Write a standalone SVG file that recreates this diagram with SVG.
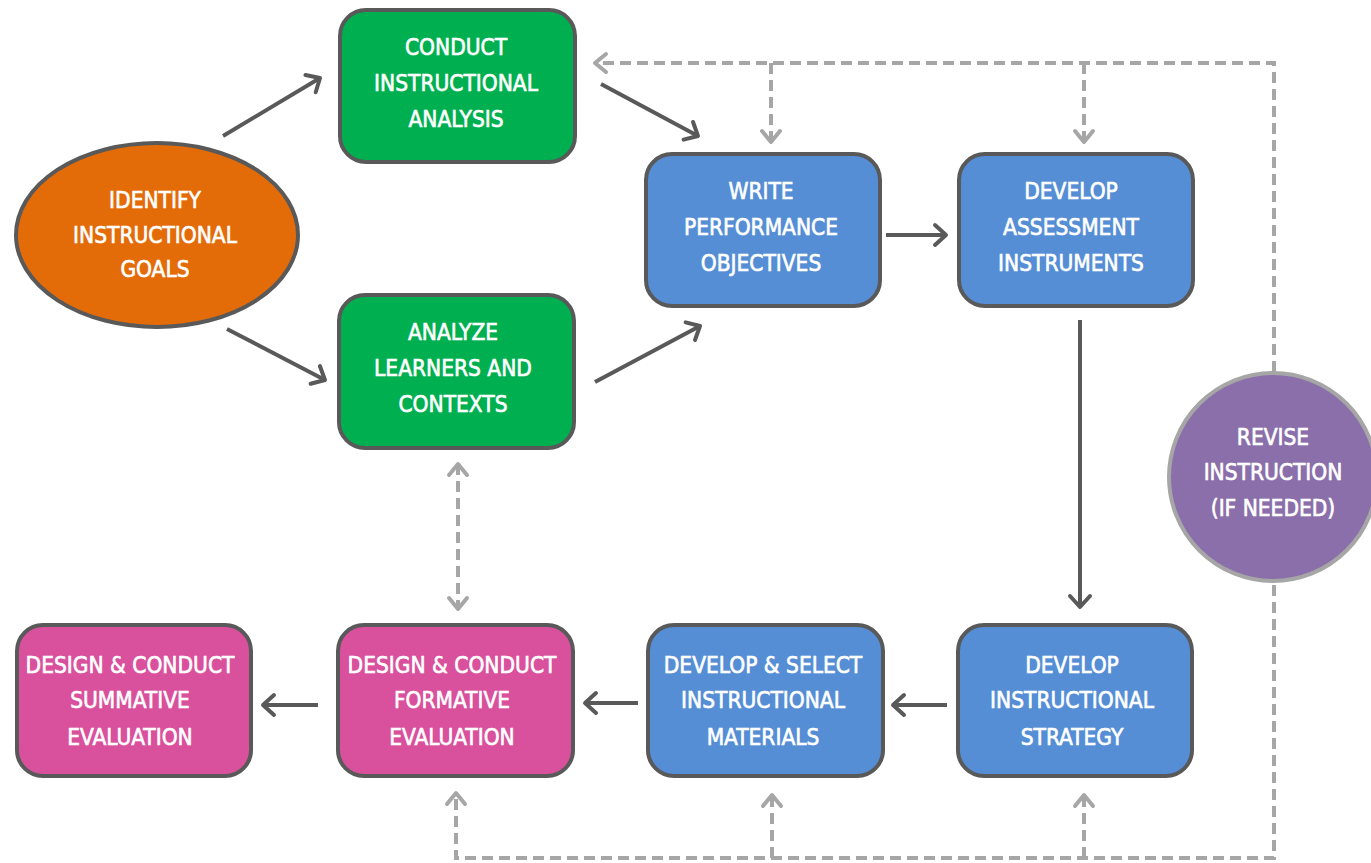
<svg xmlns="http://www.w3.org/2000/svg" width="1371" height="863" viewBox="0 0 1371 863">
<defs>
<style>
.box{stroke:#595959;stroke-width:4}
.g{fill:#00b050}.o{fill:#e36c09}.b{fill:#558ed5}.p{fill:#d9509c}
.t{font-family:"Liberation Sans Narrow","DejaVu Sans Condensed","Liberation Sans",sans-serif;font-size:22.5px;fill:#ffffff;stroke:#ffffff;stroke-width:0.6;text-anchor:middle}
.solid{stroke:#595959;stroke-width:4;fill:none;marker-end:url(#ah)}
.dash{stroke:#a6a6a6;stroke-width:4;fill:none;stroke-dasharray:11 6}
</style>
<marker id="ah" markerUnits="userSpaceOnUse" markerWidth="30" markerHeight="30" viewBox="-15 -15 30 30" refX="0" refY="0" orient="auto">
<path d="M-11,-10 L0,0 L-11,10" fill="none" stroke="#595959" stroke-width="4" stroke-linecap="round" stroke-linejoin="round"/>
</marker>
<marker id="ahg" markerUnits="userSpaceOnUse" markerWidth="30" markerHeight="30" viewBox="-15 -15 30 30" refX="0" refY="0" orient="auto-start-reverse">
<path d="M-11,-9 L0,0 L-11,9" fill="none" stroke="#a6a6a6" stroke-width="4" stroke-linecap="round" stroke-linejoin="round"/>
</marker>
</defs>
<rect width="1371" height="863" fill="#ffffff"/>

<g id="connectors">
<line class="solid" x1="223" y1="136" x2="320" y2="78"/>
<line class="solid" x1="227" y1="329" x2="325" y2="380"/>
<line class="solid" x1="601" y1="84" x2="698" y2="136"/>
<line class="solid" x1="595" y1="382" x2="700" y2="326"/>
<line class="solid" x1="886" y1="235" x2="946" y2="235"/>
<line class="solid" x1="1080" y1="320" x2="1080" y2="607"/>
<line class="solid" x1="947" y1="705" x2="893" y2="705"/>
<line class="solid" x1="638" y1="703" x2="585" y2="703"/>
<line class="solid" x1="318" y1="705" x2="263" y2="705"/>

<path class="dash" d="M1274,372 L1274,63 L595,63" marker-end="url(#ahg)"/>
<path class="dash" d="M771,63 L771,142" marker-end="url(#ahg)"/>
<path class="dash" d="M1084,63 L1084,142" marker-end="url(#ahg)"/>
<path class="dash" d="M1274,585 L1274,858 L456,858 L456,793" marker-end="url(#ahg)"/>
<path class="dash" d="M772,858 L772,795" marker-end="url(#ahg)"/>
<path class="dash" d="M1084,858 L1084,795" marker-end="url(#ahg)"/>
<path class="dash" d="M458,464 L458,609" marker-start="url(#ahg)" marker-end="url(#ahg)"/>
</g>

<g id="identify-goals">
<ellipse class="box o" cx="157" cy="235" rx="141" ry="92"/>
<text class="t" x="155" y="208">IDENTIFY</text>
<text class="t" x="155" y="243">INSTRUCTIONAL</text>
<text class="t" x="155" y="277">GOALS</text>
</g>

<g id="conduct-analysis">
<rect class="box g" x="340" y="10" width="235" height="152" rx="26"/>
<text class="t" x="456" y="55">CONDUCT</text>
<text class="t" x="456" y="91">INSTRUCTIONAL</text>
<text class="t" x="456" y="127">ANALYSIS</text>
</g>

<g id="analyze-learners">
<rect class="box g" x="339" y="295" width="235" height="153" rx="26"/>
<text class="t" x="453" y="340">ANALYZE</text>
<text class="t" x="453" y="376">LEARNERS AND</text>
<text class="t" x="453" y="412">CONTEXTS</text>
</g>

<g id="write-objectives">
<rect class="box b" x="646" y="154" width="234" height="152" rx="26"/>
<text class="t" x="761" y="199">WRITE</text>
<text class="t" x="761" y="235">PERFORMANCE</text>
<text class="t" x="761" y="271">OBJECTIVES</text>
</g>

<g id="develop-assessment">
<rect class="box b" x="959" y="154" width="234" height="152" rx="26"/>
<text class="t" x="1071" y="199">DEVELOP</text>
<text class="t" x="1071" y="235">ASSESSMENT</text>
<text class="t" x="1071" y="271">INSTRUMENTS</text>
</g>

<g id="revise-instruction">
<circle cx="1273" cy="477" r="104" fill="#8a6faa" stroke="#a6a6a6" stroke-width="4"/>
<text class="t" x="1273" y="445">REVISE</text>
<text class="t" x="1273" y="480">INSTRUCTION</text>
<text class="t" x="1273" y="516">(IF NEEDED)</text>
</g>

<g id="develop-strategy">
<rect class="box b" x="958" y="625" width="234" height="151" rx="26"/>
<text class="t" x="1072" y="673">DEVELOP</text>
<text class="t" x="1072" y="708">INSTRUCTIONAL</text>
<text class="t" x="1072" y="745">STRATEGY</text>
</g>

<g id="develop-materials">
<rect class="box b" x="648" y="625" width="235" height="151" rx="26"/>
<text class="t" x="763" y="673">DEVELOP &amp; SELECT</text>
<text class="t" x="763" y="708">INSTRUCTIONAL</text>
<text class="t" x="763" y="745">MATERIALS</text>
</g>

<g id="formative-evaluation">
<rect class="box p" x="338" y="625" width="235" height="151" rx="26"/>
<text class="t" x="452" y="673">DESIGN &amp; CONDUCT</text>
<text class="t" x="452" y="708">FORMATIVE</text>
<text class="t" x="452" y="745">EVALUATION</text>
</g>

<g id="summative-evaluation">
<rect class="box p" x="17" y="625" width="234" height="151" rx="26"/>
<text class="t" x="130" y="673">DESIGN &amp; CONDUCT</text>
<text class="t" x="130" y="708">SUMMATIVE</text>
<text class="t" x="130" y="745">EVALUATION</text>
</g>
</svg>
